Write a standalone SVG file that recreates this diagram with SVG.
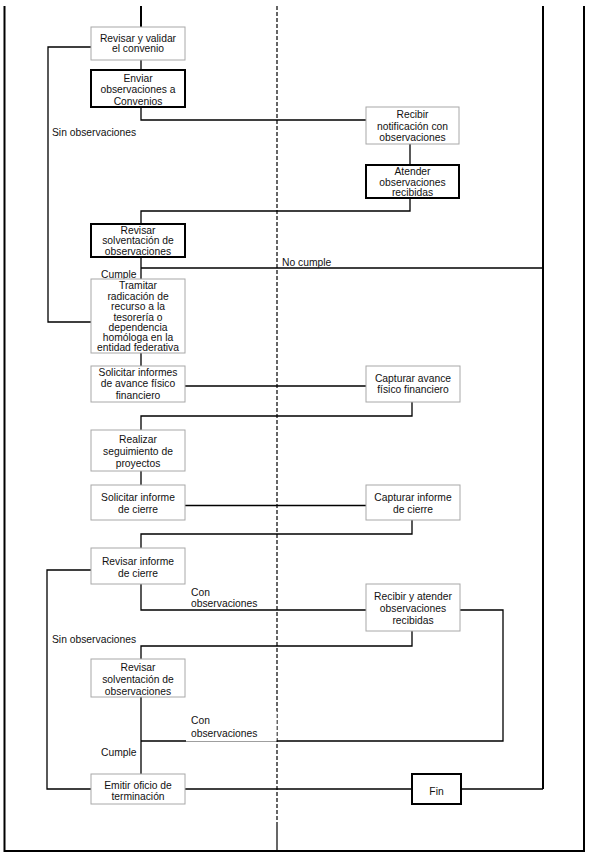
<svg xmlns="http://www.w3.org/2000/svg" width="589" height="856" viewBox="0 0 589 856">
<style>
.g{fill:#fff;stroke:#a8a8a8;stroke-width:1}
.b{fill:#fff;stroke:#000;stroke-width:2}
.t{font-family:"Liberation Sans",Arial,sans-serif;font-size:10.3px;fill:#111;text-anchor:middle}
.l{font-family:"Liberation Sans",Arial,sans-serif;font-size:10.3px;fill:#111}
.c{fill:none;stroke:#000;stroke-width:1.3}
.f{fill:none;stroke:#000;stroke-width:2}
</style>
<rect width="589" height="856" fill="#fff"/>
<g id="frame">
<path class="f" d="M4.5,6 V851 H584 V6"/>
<path class="f" d="M543,6 V789"/>
<path d="M277,6 V823" stroke="#000" stroke-width="1.2" stroke-dasharray="4 2" fill="none"/>
<path d="M277,823 V851" stroke="#000" stroke-width="1.2" fill="none"/>
</g>
<g id="connectors">
<path class="f" d="M141,6 V27"/>
<path class="c" d="M141,60 V70"/>
<path class="c" d="M91,47 H48 V322 H91"/>
<path class="c" d="M141,107 V120 H366"/>
<path class="c" d="M410,144 V165"/>
<path class="c" d="M410,198 V211 H141 V224"/>
<path class="c" d="M141,257 V279"/>
<path class="c" d="M141,268 H543"/>
<path class="c" d="M141,353 V366"/>
<path class="c" d="M185,386 H366"/>
<path class="c" d="M412,402 V416 H141 V430"/>
<path class="c" d="M141,471 V485"/>
<path class="c" d="M185,505.5 H366"/>
<path class="c" d="M412,520 V534 H141 V548"/>
<path class="c" d="M91,570 H47 V789 H91"/>
<path class="c" d="M141,584 V610 H366"/>
<path class="c" d="M460,610 H503 V741 H141"/>
<path class="c" d="M412,631 V646 H141 V659"/>
<path class="c" d="M141,697 V774"/>
<path class="c" d="M185,789 H412"/>
<path class="c" d="M461,789 H543"/>
</g>
<g id="labels">
<text class="l" x="52" y="136">Sin observaciones</text>
<text class="l" x="282" y="266">No cumple</text>
<text class="l" x="101" y="277.5">Cumple</text>
<text class="l" x="191" y="595.5">Con</text>
<text class="l" x="191" y="607">observaciones</text>
<text class="l" x="52" y="642.5">Sin observaciones</text>
<rect x="186" y="711" width="90.5" height="30.5" fill="#fff"/>
<text class="l" x="191" y="723.5">Con</text>
<text class="l" x="191" y="737">observaciones</text>
<text class="l" x="101" y="756">Cumple</text>
</g>
<g id="n1"><rect class="g" x="91" y="27" width="94" height="33"/>
<text class="t" x="138" y="41.5">Revisar y validar</text><text class="t" x="138" y="52">el convenio</text></g>
<g id="n2"><rect class="b" x="91" y="70" width="94" height="37"/>
<text class="t" x="138" y="81.5">Enviar</text><text class="t" x="138" y="93">observaciones a</text><text class="t" x="138" y="104.5">Convenios</text></g>
<g id="n3"><rect class="g" x="366" y="107" width="93" height="37"/>
<text class="t" x="412.5" y="118">Recibir</text><text class="t" x="412.5" y="129.5">notificación con</text><text class="t" x="412.5" y="141">observaciones</text></g>
<g id="n4"><rect class="b" x="366" y="165" width="93" height="33"/>
<text class="t" x="412.5" y="174.5">Atender</text><text class="t" x="412.5" y="185.5">observaciones</text><text class="t" x="412.5" y="196">recibidas</text></g>
<g id="n5"><rect class="b" x="91" y="224" width="94" height="33"/>
<text class="t" x="138" y="233.7">Revisar</text><text class="t" x="138" y="244.3">solventación de</text><text class="t" x="138" y="254.8">observaciones</text></g>
<g id="n6"><rect class="g" x="91" y="279" width="94" height="74"/>
<text class="t" x="138" y="288.7">Tramitar</text><text class="t" x="138" y="299.5">radicación de</text><text class="t" x="138" y="310.3">recurso a la</text><text class="t" x="138" y="320.5">tesorería o</text><text class="t" x="138" y="330.7">dependencia</text><text class="t" x="138" y="341">homóloga en la</text><text class="t" x="138" y="350.7">entidad federativa</text></g>
<g id="n7"><rect class="g" x="91" y="366" width="94" height="36"/>
<text class="t" x="138" y="375.7">Solicitar informes</text><text class="t" x="138" y="387.3">de avance físico</text><text class="t" x="138" y="398.7">financiero</text></g>
<g id="n8"><rect class="g" x="366" y="366" width="94" height="36"/>
<text class="t" x="413" y="381.7">Capturar avance</text><text class="t" x="413" y="393.3">físico financiero</text></g>
<g id="n9"><rect class="g" x="91" y="430" width="94" height="41"/>
<text class="t" x="138" y="443">Realizar</text><text class="t" x="138" y="455">seguimiento de</text><text class="t" x="138" y="467">proyectos</text></g>
<g id="n10"><rect class="g" x="91" y="485" width="94" height="35"/>
<text class="t" x="138" y="500.7">Solicitar informe</text><text class="t" x="138" y="513">de cierre</text></g>
<g id="n11"><rect class="g" x="366" y="485" width="94" height="35"/>
<text class="t" x="413" y="500.7">Capturar informe</text><text class="t" x="413" y="513">de cierre</text></g>
<g id="n12"><rect class="g" x="91" y="548" width="94" height="36"/>
<text class="t" x="138" y="565.3">Revisar informe</text><text class="t" x="138" y="577">de cierre</text></g>
<g id="n13"><rect class="g" x="366" y="584" width="94" height="47"/>
<text class="t" x="413" y="600.3">Recibir y atender</text><text class="t" x="413" y="612.3">observaciones</text><text class="t" x="413" y="624">recibidas</text></g>
<g id="n14"><rect class="g" x="91" y="659" width="94" height="38"/>
<text class="t" x="138" y="671">Revisar</text><text class="t" x="138" y="683">solventación de</text><text class="t" x="138" y="695.3">observaciones</text></g>
<g id="n15"><rect class="g" x="91" y="774" width="94" height="30"/>
<text class="t" x="138" y="788.7">Emitir oficio de</text><text class="t" x="138" y="800.3">terminación</text></g>
<g id="n16"><rect class="b" x="412" y="774" width="49" height="30"/>
<text class="t" x="436.5" y="794.7">Fin</text></g>
</svg>
